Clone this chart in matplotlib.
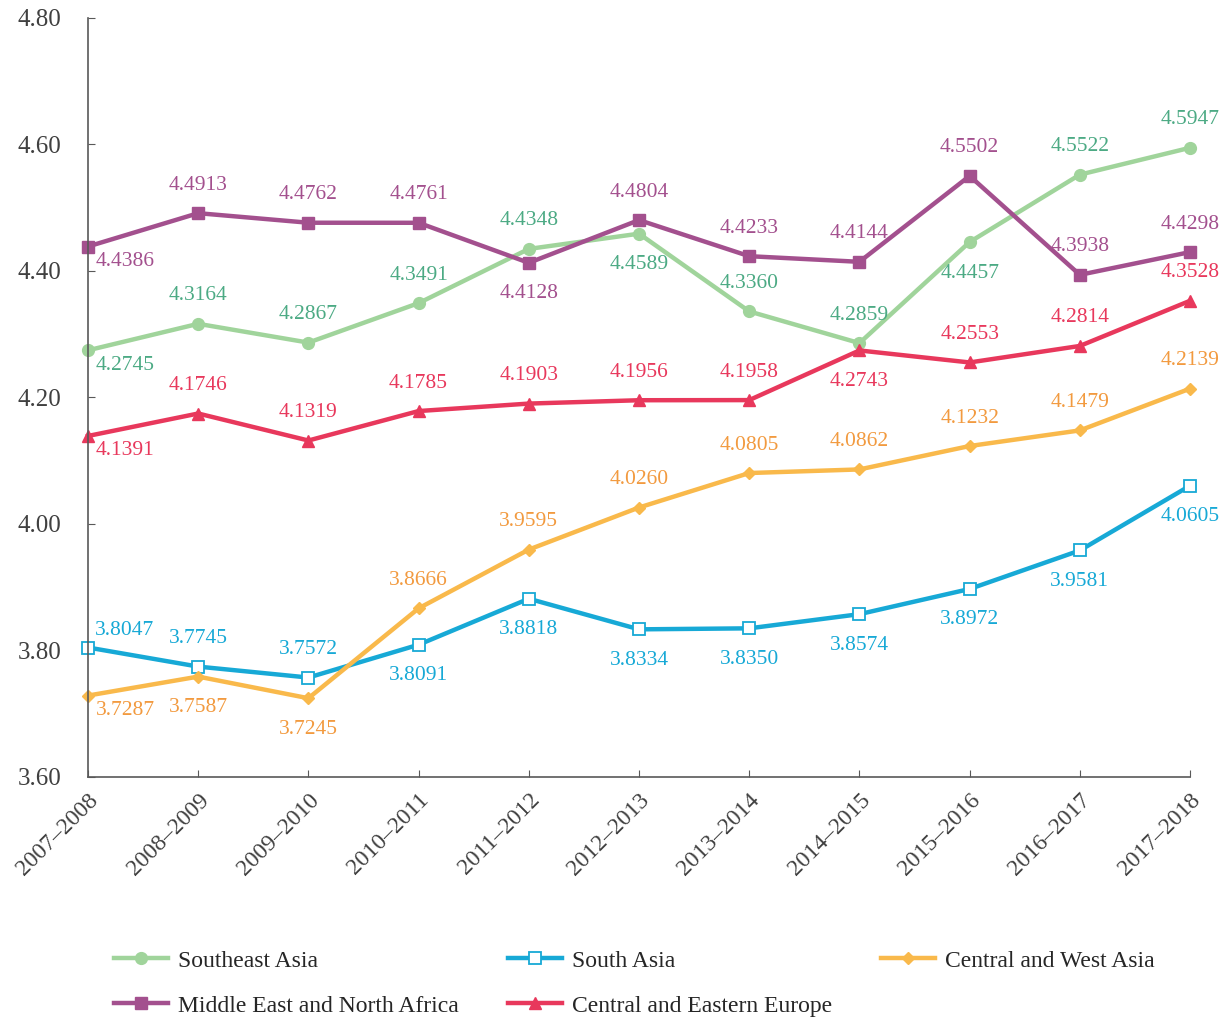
import matplotlib.pyplot as plt

plt.rcParams['font.family'] = ['Liberation Serif', 'DejaVu Serif']

years = ["2007–2008", "2008–2009", "2009–2010", "2010–2011", "2011–2012",
         "2012–2013", "2013–2014", "2014–2015", "2015–2016", "2016–2017",
         "2017–2018"]

southeast_asia = [4.2745, 4.3164, 4.2867, 4.3491, 4.4348, 4.4589, 4.3360, 4.2859, 4.4457, 4.5522, 4.5947]
south_asia = [3.8047, 3.7745, 3.7572, 3.8091, 3.8818, 3.8334, 3.8350, 3.8574, 3.8972, 3.9581, 4.0605]
central_west_asia = [3.7287, 3.7587, 3.7245, 3.8666, 3.9595, 4.0260, 4.0805, 4.0862, 4.1232, 4.1479, 4.2139]
mena = [4.4386, 4.4913, 4.4762, 4.4761, 4.4128, 4.4804, 4.4233, 4.4144, 4.5502, 4.3938, 4.4298]
cee = [4.1391, 4.1746, 4.1319, 4.1785, 4.1903, 4.1956, 4.1958, 4.2743, 4.2553, 4.2814, 4.3528]

# label side for each point: a = above, b = below, ra/rb = right of the first point
series = [
    ("Southeast Asia", southeast_asia, "#a0d49b", "#4caa84", dict(marker="o", ms=8.5),
     ["rb", "a", "a", "a", "a", "b", "a", "a", "b", "a", "a"]),
    ("South Asia", south_asia, "#17a9d6", "#17a9d6", dict(marker="s", ms=8, mfc="white", mew=1.3),
     ["ra", "a", "a", "b", "b", "b", "b", "b", "b", "b", "b"]),
    ("Central and West Asia", central_west_asia, "#f9b94b", "#f29a3f", dict(marker="D", ms=6),
     ["rb", "b", "b", "a", "a", "a", "a", "a", "a", "a", "a"]),
    ("Middle East and North Africa", mena, "#a3508e", "#a3508e", dict(marker="s", ms=8),
     ["rb", "a", "a", "a", "b", "a", "a", "a", "a", "a", "a"]),
    ("Central and Eastern Europe", cee, "#e8385c", "#e8385c", dict(marker="^", ms=8),
     ["rb", "a", "a", "a", "a", "a", "a", "b", "a", "a", "a"]),
]

offsets = {"a": (0, 28), "b": (0, -31), "ra": (37, 17), "rb": (37, -15)}

fig = plt.figure(figsize=(12.29, 10.17), dpi=100)
ax = fig.add_axes([0.0716, 0.236, 0.8967, 0.7464])

x = list(range(len(years)))
lines = {}
for name, vals, color, tcolor, mk, sides in series:
    ln, = ax.plot(x, vals, color=color, lw=3.2, mec=color, label=name, clip_on=False, **mk)
    lines[name] = ln
    for xi, v, s in zip(x, vals, sides):
        ax.annotate(f"{v:.4f}", (xi, v), xytext=offsets[s], textcoords="offset pixels",
                    ha="center", va="center", fontsize=15.5, color=tcolor)

ax.set_xlim(0, len(years) - 1)
ax.set_ylim(3.6, 4.8)
ax.set_yticks([3.6, 3.8, 4.0, 4.2, 4.4, 4.6, 4.8])
ax.set_yticklabels([f"{t:.2f}" for t in ax.get_yticks()])
ax.set_xticks(x)
ax.set_xticklabels(years, rotation=45, ha="right", rotation_mode="anchor")
ax.tick_params(direction="in", length=5, color="#595959", labelsize=18, labelcolor="#404040")
ax.tick_params(axis="x", labelsize=17, pad=9)
ax.tick_params(axis="y", pad=19)
for s in ["top", "right"]:
    ax.spines[s].set_visible(False)
for s in ["left", "bottom"]:
    ax.spines[s].set_color("#595959")
    ax.spines[s].set_linewidth(1.2)

order = ["Southeast Asia", "Middle East and North Africa", "South Asia",
         "Central and Eastern Europe", "Central and West Asia"]
fig.legend([lines[n] for n in order], order, ncol=3, loc="lower left",
           bbox_to_anchor=(0.085, -0.009, 0.862, 0.08), mode="expand", frameon=False,
           fontsize=17, handlelength=2.3, handletextpad=0.4, labelspacing=1.0,
           borderaxespad=0.0, labelcolor="#262626")

fig.savefig("out.png", dpi=100)
